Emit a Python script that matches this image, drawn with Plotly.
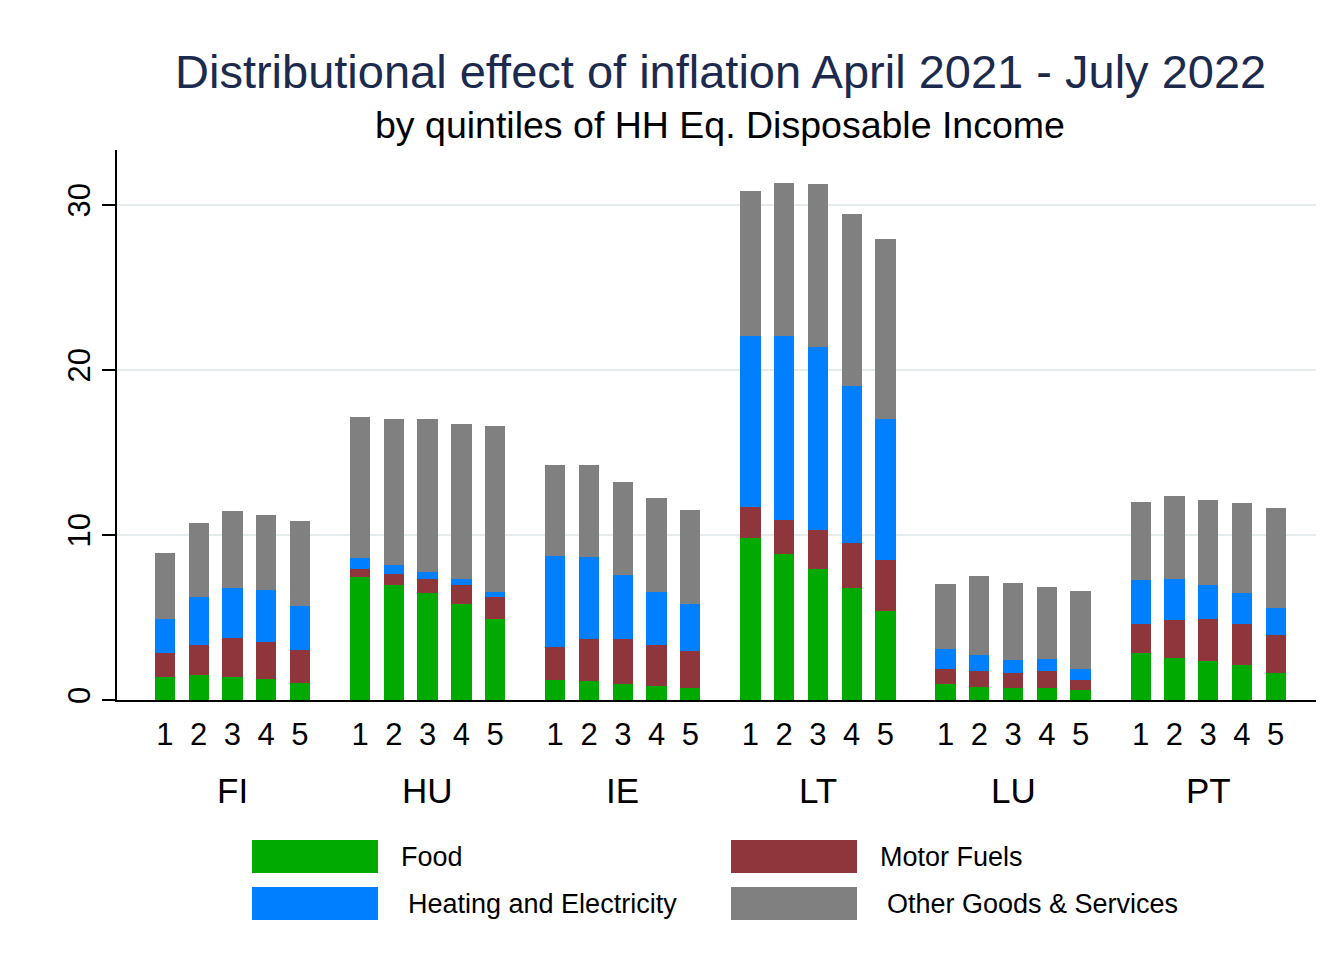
import plotly.graph_objects as go

# Données (contribution en points de %)
countries = ['FI', 'HU', 'IE', 'LT', 'LU', 'PT']
quintiles = ['1', '2', '3', '4', '5']

food = [1.41, 1.50, 1.41, 1.29, 1.05,
        7.45, 6.97, 6.46, 5.82, 4.91,
        1.23, 1.13, 0.99, 0.85, 0.73,
        9.79, 8.83, 7.96, 6.77, 5.42,
        0.97, 0.81, 0.73, 0.73, 0.61,
        2.85, 2.53, 2.34, 2.10, 1.64]
motor_fuels = [1.44, 1.83, 2.33, 2.23, 2.00,
               0.49, 0.67, 0.87, 1.13, 1.35,
               1.98, 2.59, 2.69, 2.46, 2.24,
               1.88, 2.05, 2.37, 2.73, 3.08,
               0.93, 0.97, 0.91, 1.01, 0.62,
               1.76, 2.34, 2.55, 2.53, 2.28]
heating = [2.04, 2.93, 3.05, 3.13, 2.65,
           0.67, 0.54, 0.45, 0.36, 0.31,
           5.52, 4.97, 3.92, 3.26, 2.83,
           10.41, 11.20, 11.07, 9.50, 8.50,
           1.17, 0.95, 0.80, 0.74, 0.63,
           2.66, 2.46, 2.08, 1.83, 1.66]
other = [4.00, 4.49, 4.68, 4.54, 5.17,
         8.52, 8.87, 9.25, 9.42, 10.06,
         5.51, 5.53, 5.61, 5.65, 5.69,
         8.75, 9.23, 9.85, 10.46, 10.96,
         3.94, 4.76, 4.63, 4.35, 4.77,
         4.73, 5.01, 5.15, 5.48, 6.04]

series = [
    ('Food', food, '#00aa00'),
    ('Heating and Electricity', heating, '#0080ff'),
    ('Motor Fuels', motor_fuels, '#8f353c'),
    ('Other Goods & Services', other, '#808080'),
]
stack_order = ['Food', 'Motor Fuels', 'Heating and Electricity', 'Other Goods & Services']

# Positions x : 5 barres par pays, espace entre les pays
group_step = 5.78
x_pos = [g * group_step + q for g in range(len(countries)) for q in range(len(quintiles))]
x_text = [q for _ in countries for q in quintiles]

fig = go.Figure()
colors = {name: c for name, _, c in series}
values = {name: v for name, v, _ in series}
for name in stack_order:
    fig.add_trace(go.Bar(
        x=x_pos,
        y=values[name],
        name=name,
        width=0.6,
        marker=dict(color=colors[name], line=dict(width=0)),
        showlegend=False,
        hovertemplate='%{y:.2f}<extra>' + name + '</extra>'
    ))

# Conversion pixels écran -> coordonnées papier (zone de tracé 117..1323 x 150..700)
W, H = 1206.0, 550.0
def px_x(p):
    return (p - 117) / W
def px_y(p):
    return (700 - p) / H

# Titre et sous-titre
fig.add_annotation(xref='paper', yref='paper', x=px_x(720), y=px_y(71),
                   text='Distributional effect of inflation April 2021 - July 2022',
                   showarrow=False, xanchor='center', yanchor='middle',
                   font=dict(size=47, color='#1c2a4e'))
fig.add_annotation(xref='paper', yref='paper', x=px_x(720), y=px_y(125),
                   text='by quintiles of HH Eq. Disposable Income',
                   showarrow=False, xanchor='center', yanchor='middle',
                   font=dict(size=37.5, color='black'))

# Étiquettes des pays
for g, c in enumerate(countries):
    fig.add_annotation(x=g * group_step + 2, y=px_y(790), xref='x', yref='paper',
                       text=c, showarrow=False, xanchor='center', yanchor='middle',
                       font=dict(size=35, color='black'))

# Légende dessinée à la main (grandes vignettes)
legend_items = [
    ('Food', 252, 840, 399),
    ('Heating and Electricity', 252, 887, 406),
    ('Motor Fuels', 731, 840, 878),
    ('Other Goods & Services', 731, 887, 885),
]
for name, x0, y0, tx in legend_items:
    fig.add_shape(type='rect', xref='paper', yref='paper',
                  x0=px_x(x0), x1=px_x(x0 + 126), y0=px_y(y0), y1=px_y(y0 + 33),
                  fillcolor=colors[name], line=dict(width=0))
    fig.add_annotation(xref='paper', yref='paper', x=px_x(tx), y=px_y(y0 + 17),
                       text=name, showarrow=False, xanchor='left', yanchor='middle',
                       font=dict(size=27, color='black'))

fig.update_layout(
    width=1324, height=975,
    margin=dict(l=109, r=9, t=142, b=283),
    paper_bgcolor='white', plot_bgcolor='white',
    font=dict(family='Liberation Sans, Arial, sans-serif', color='black'),
    barmode='stack',
    bargap=0,
    xaxis=dict(
        range=[-1.42, 5 * group_step + 4 + 1.4],
        tickmode='array', tickvals=x_pos, ticktext=x_text,
        tickfont=dict(size=31), ticks='', ticklen=0,
        ticklabelstandoff=6,
        showgrid=False, zeroline=False,
        showline=True, linecolor='black', linewidth=2,
        fixedrange=True
    ),
    yaxis=dict(
        range=[0, 33.33],
        tickvals=[0, 10, 20, 30], tickangle=-90,
        tickfont=dict(size=31),
        ticks='outside', ticklen=13, tickcolor='black', tickwidth=1.5,
        ticklabelstandoff=0,
        showgrid=True, gridcolor='#e4eced', gridwidth=2,
        zeroline=False, showline=True, linecolor='black', linewidth=1.5,
        fixedrange=True
    ),
    showlegend=False,
)

fig.write_html('out.html')
